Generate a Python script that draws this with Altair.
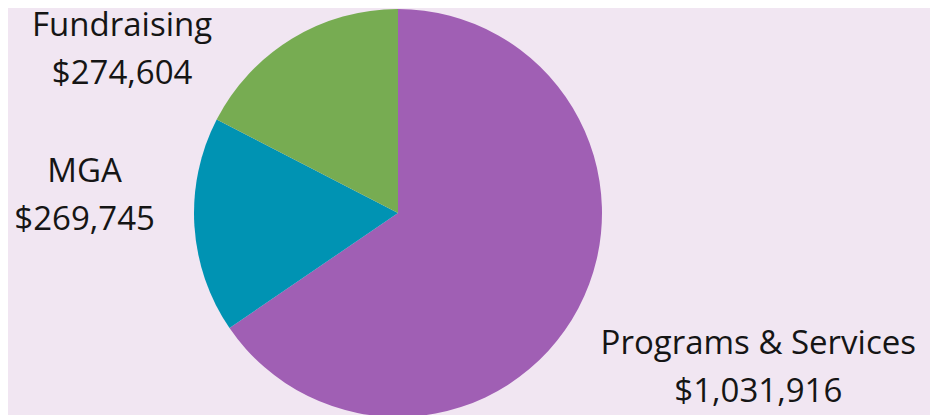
import altair as alt
import pandas as pd

categories = ["Programs & Services", "MGA", "Fundraising"]
values = [1031916, 269745, 274604]
colors = ["#A05FB4", "#0093B3", "#77AC52"]

df = pd.DataFrame({
    "category": categories,
    "value": values,
    "idx": list(range(len(categories))),
    "label": [f"{c}\n${v:,}" for c, v in zip(categories, values)],
})

CX, CY = 390, 205

pie = alt.Chart(df).mark_arc(radius=204).encode(
    theta=alt.Theta("value:Q", stack=True),
    order=alt.Order("idx:Q"),
    color=alt.Color("category:N", scale=alt.Scale(domain=categories, range=colors), legend=None),
    x=alt.value(CX),
    y=alt.value(CY),
)

label_base = alt.Chart(df).transform_window(
    cum="sum(value)", sort=[alt.SortField("idx")]
).transform_joinaggregate(
    total="sum(value)"
).transform_calculate(
    mid="2*PI*(datum.cum - datum.value/2)/datum.total"
)

label_cfg = {
    "Programs & Services": dict(radius=395, dx=11, dy=-53),
    "MGA": dict(radius=315, dx=1, dy=-60),
    "Fundraising": dict(radius=290, dx=-125, dy=61),
}

layers = [pie]
for cat in categories:
    cfg = label_cfg[cat]
    layers.append(
        label_base.transform_filter(alt.datum.category == cat).mark_text(
            radius=cfg["radius"], dx=cfg["dx"], dy=cfg["dy"],
            font="Open Sans", fontSize=33, lineBreak="\n", lineHeight=48,
            align="center", baseline="middle", color="#151515",
        ).encode(
            theta=alt.Theta("mid:Q", scale=None),
            text="label:N",
            x=alt.value(CX),
            y=alt.value(CY),
        )
    )

chart = alt.layer(*layers).properties(
    width=922, height=407, padding=0,
    autosize=alt.AutoSizeParams(type="none"),
    background="#F1E6F2",
).configure_view(stroke=None)

chart.save("out.html", embed_options={"renderer": "svg", "actions": False})
